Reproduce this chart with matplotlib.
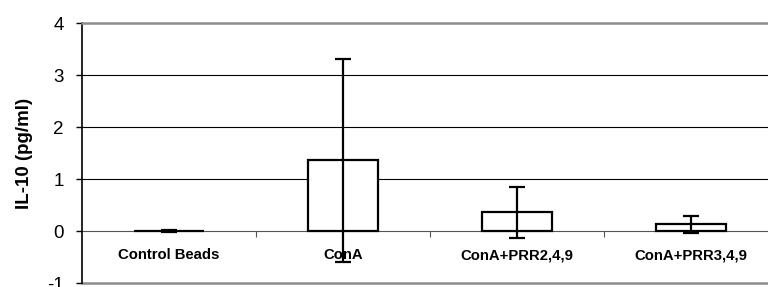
import matplotlib.pyplot as plt

# IL-10 bar chart with error bars
groups = ["Control Beads", "ConA", "ConA+PRR2,4,9", "ConA+PRR3,4,9"]
means = [0.0, 1.36, 0.36, 0.13]
errs = [0.01, 1.95, 0.49, 0.16]

plt.rcParams['font.family'] = ['Liberation Sans', 'DejaVu Sans']
plt.rcParams['axes.unicode_minus'] = False

fig = plt.figure(figsize=(7.68, 2.87), dpi=100)
# plot area runs a bit past the right edge of the picture
ax = fig.add_axes([82 / 768, (287 - 283) / 287, 696 / 768, 260 / 287])

x = list(range(len(groups)))
ax.bar(x, means, width=0.4, color="white", edgecolor="black", linewidth=1.6, zorder=3)
ax.errorbar(x, means, yerr=errs, fmt="none", ecolor="black", elinewidth=1.6,
            capsize=6, capthick=1.6, zorder=4)

ax.set_xlim(-0.5, 3.5)
ax.set_ylim(-1, 4)
ax.set_yticks([-1, 0, 1, 2, 3, 4])
ax.tick_params(axis="y", labelsize=13.5, length=4, width=1, pad=9)
ax.set_ylabel("IL-10 (pg/ml)", fontsize=13.5, fontweight="bold", labelpad=10)

for yv in [1, 2, 3]:
    ax.axhline(yv, color="black", linewidth=0.8, zorder=1)
ax.axhline(-1, color="#8c8c8c", linewidth=1.8, zorder=1, clip_on=False)

ax.spines["bottom"].set_position(("data", 0))
ax.spines["bottom"].set_color("#555555")
ax.spines["bottom"].set_zorder(2)
ax.spines["top"].set_color("#8c8c8c")
ax.spines["top"].set_linewidth(1.8)
ax.spines["right"].set_color("#8c8c8c")
ax.spines["left"].set_color("black")
ax.spines["left"].set_linewidth(1.2)

ax.set_xticks([0.5, 1.5, 2.5])
ax.set_xticklabels([])
ax.tick_params(axis="x", length=4, width=0.8, color="#555555")

for i, g in enumerate(groups):
    ax.text(i, -0.47, g, ha="center", va="center", fontsize=10.7,
            fontweight="bold", zorder=2)

fig.savefig("out.png", dpi=100)
